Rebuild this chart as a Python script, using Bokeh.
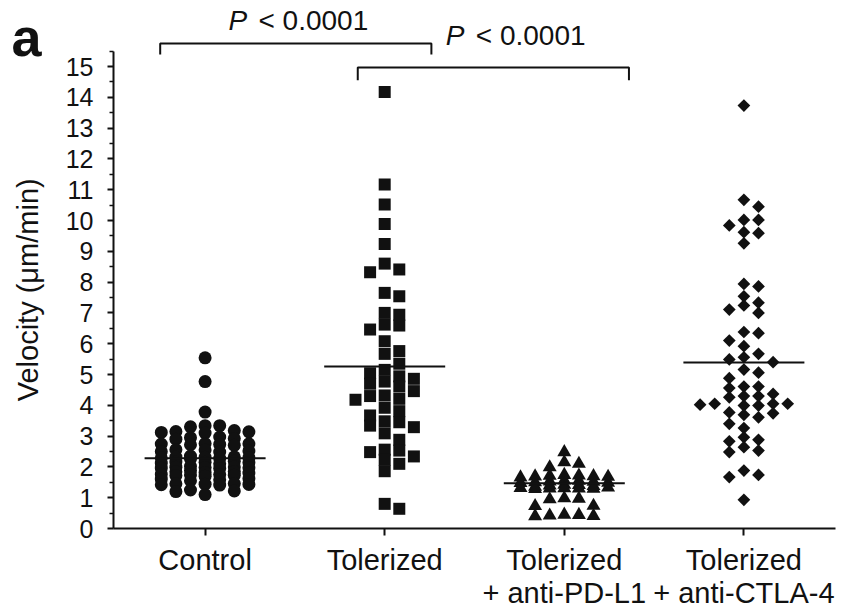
import numpy as np
from bokeh.plotting import figure
from bokeh.models import FixedTicker, Range1d, ColumnDataSource
from bokeh.core.properties import value
from bokeh.embed import file_html
from bokeh.resources import INLINE

# ---------------- data ----------------
CATEGORIES = ["Control", "Tolerized", "Tolerized\n+ anti-PD-L1", "Tolerized\n+ anti-CTLA-4"]

CONTROL = [5.54, 4.77, 3.78,
           3.34, 3.34, 3.30,
           3.15, 3.12, 3.18, 3.10, 3.14,
           2.95, 2.97, 2.92, 2.90,
           2.75, 2.73, 2.72, 2.74, 2.70, 2.76,
           2.55, 2.52, 2.50, 2.56, 2.48,
           2.35, 2.32, 2.30, 2.28, 2.26, 2.33, 2.29, 2.31,
           2.15, 2.12, 2.18, 2.10, 2.14, 2.16,
           1.98, 2.00, 1.96, 1.99, 2.02, 1.97, 1.95,
           1.85, 1.82, 1.88, 1.80, 1.84,
           1.74, 1.72, 1.76, 1.70, 1.75, 1.73,
           1.58, 1.60, 1.55, 1.62,
           1.45, 1.43, 1.42, 1.44, 1.41, 1.46,
           1.25, 1.20, 1.22,
           1.10]

TOLERIZED = [14.17, 11.17, 10.52, 9.89, 9.24, 8.60, 8.41, 8.32, 7.54, 7.65,
             7.00, 6.94, 6.59, 6.62, 6.46, 6.08, 5.67, 5.76, 5.35, 5.04,
             5.15, 4.86, 4.94, 4.70, 4.77, 4.61, 4.46, 4.32, 4.21, 4.18,
             4.30, 3.92, 3.81, 3.67, 3.45, 3.29, 3.34, 3.48, 3.09, 2.88,
             2.56, 2.48, 2.34, 2.53, 2.23, 2.10, 1.86, 0.64, 0.80]

ANTI_PDL1 = [2.48, 2.15, 1.99, 2.10,
             1.72, 1.68, 1.70, 1.74, 1.66, 1.69, 1.71,
             1.55, 1.50, 1.52, 1.48, 1.56, 1.53, 1.49,
             1.40, 1.38, 1.42, 1.36, 1.41,
             1.31, 1.30, 1.33, 1.28, 1.32, 1.29, 1.30,
             0.97, 0.98, 0.95,
             0.73, 0.74,
             0.42, 0.40, 0.44, 0.41, 0.45]

ANTI_CTLA4 = [13.73, 10.67, 10.45, 10.02, 10.02, 9.84, 9.62, 9.59, 9.26,
              7.86, 7.94, 7.54, 7.24, 7.00, 7.11, 7.33, 6.34, 6.38, 6.10,
              5.92, 5.67, 5.56, 5.49, 5.40, 5.16, 5.06, 4.88, 4.61, 4.61,
              4.56, 4.30, 4.26, 4.37, 4.30, 4.05, 4.05, 4.05, 4.02, 3.99,
              3.99, 3.74, 3.77, 3.61, 3.69, 3.40, 3.26, 2.88, 2.96, 2.83,
              2.64, 2.48, 2.53, 1.74, 1.67, 1.88, 0.93]

MEDIANS = [2.28, 5.26, 1.47, 5.39]
Y_TICKS = list(range(0, 16))
Y_MAX = 15.5
Y_LABEL = "Velocity (μm/min)"
PANEL_LETTER = "a"

# comparisons (bracket spans along the category axis, heights in µm/min)
BRACKET_LEFT = [0.75, 1.85]
BRACKET_RIGHT = [2.26, 3.36]
BRACKET_TOP = [15.75, 14.97]
BRACKET_DROP = [0.36, 0.42]
P_LABEL_X = [1.13, 2.34]
P_LABEL_Y = [16.49, 16.01]
P_VALUE_TEXT = ["< 0.0001", "< 0.0001"]

# ---------------- layout ----------------
W, H = 845, 611
AX_LEFT_PX, AX_BOTTOM_PX = 113, 528     # where the axes sit on the canvas
AX_X0, AX_X1 = 0.49, 4.51               # extent of the category axis
PX_X = 179.6                            # px per category unit
PX_Y = 30.8                             # px per µm/min
# whole canvas is the frame; axes are pinned with fixed_location
X_LO = AX_X0 - AX_LEFT_PX / PX_X
X_HI = X_LO + W / PX_X
Y_LO = -(H - AX_BOTTOM_PX) / PX_Y
Y_HI = Y_LO + H / PX_Y
COL_W = 14.6 / PX_X


def swarm(values, center, min_sep=10.0, max_k=3):
    order = sorted(range(len(values)), key=lambda i: -values[i])
    placed = {}
    xs = [0.0] * len(values)
    cand = [0] + [s * k for k in range(1, max_k + 1) for s in (1, -1)]
    for i in order:
        y = values[i] * PX_Y
        best = None
        for k in cand:
            if all(abs(y - yy) >= min_sep for yy in placed.get(k, [])):
                best = k
                break
        if best is None:
            best = max(cand, key=lambda k: min([abs(y - yy) for yy in placed.get(k, [])] or [1e9]))
        placed.setdefault(best, []).append(y)
        xs[i] = center + best * COL_W
    return xs


FONT = "Liberation Sans"
INK = "#111111"

p = figure(width=W, height=H, x_range=Range1d(X_LO, X_HI), y_range=Range1d(Y_LO, Y_HI),
           output_backend="svg", toolbar_location=None, title=None,
           min_border_left=0, min_border_right=0, min_border_top=0, min_border_bottom=0)
p.grid.visible = False
p.outline_line_color = None
p.background_fill_color = "white"
p.border_fill_color = "white"

centers = [1, 2, 3, 4]

src = ColumnDataSource(dict(x=swarm(CONTROL, 1, min_sep=8.0), y=CONTROL))
p.scatter("x", "y", source=src, marker="circle", size=13, fill_color=INK, line_color=None)
src = ColumnDataSource(dict(x=swarm(TOLERIZED, 2, min_sep=10.0), y=TOLERIZED))
p.scatter("x", "y", source=src, marker="square", size=12, fill_color=INK, line_color=None)
src = ColumnDataSource(dict(x=swarm(ANTI_PDL1, 3, min_sep=8.0), y=ANTI_PDL1))
p.scatter("x", "y", source=src, marker="triangle", size=14, fill_color=INK, line_color=None)
src = ColumnDataSource(dict(x=swarm(ANTI_CTLA4, 4, min_sep=9.0), y=ANTI_CTLA4))
p.scatter("x", "y", source=src, marker="square", angle=np.pi / 4, size=9, fill_color=INK, line_color=None)

# medians
half = 60.5 / PX_X
p.segment(x0=[c - half for c in centers], x1=[c + half for c in centers], y0=MEDIANS, y1=MEDIANS,
          line_color=INK, line_width=2)

# brackets
xs, ys = [], []
for l, r, t, d in zip(BRACKET_LEFT, BRACKET_RIGHT, BRACKET_TOP, BRACKET_DROP):
    xs.append([l, l, r, r])
    ys.append([t - d, t, t, t - d])
p.multi_line(xs, ys, line_color=INK, line_width=2)

p.text(x=P_LABEL_X, y=P_LABEL_Y, text=["P"] * len(P_LABEL_X), text_font=value(FONT),
       text_font_style="italic", text_font_size="28px", text_color=INK, text_baseline="middle")
p.text(x=P_LABEL_X, y=P_LABEL_Y, text=P_VALUE_TEXT, x_offset=30, text_font=value(FONT),
       text_font_size="28px", text_color=INK, text_baseline="middle")

# panel letter and y-axis title
p.text(x=[AX_X0 - 102 / PX_X], y=[(AX_BOTTOM_PX - 36) / PX_Y], text=[PANEL_LETTER], text_font=value(FONT),
       text_font_style="bold", text_font_size="54px", text_color=INK, text_baseline="middle")
p.text(x=[AX_X0 - 85.5 / PX_X], y=[Y_MAX / 2], text=[Y_LABEL], angle=np.pi / 2, text_font=value(FONT),
       text_font_size="29px", text_color=INK, text_align="center", text_baseline="middle")

# axes
ya = p.yaxis[0]
ya.fixed_location = AX_X0
ya.ticker = FixedTicker(ticks=Y_TICKS, minor_ticks=[t + 0.5 for t in Y_TICKS])
ya.bounds = (0, Y_MAX)
ya.axis_line_width = 2
ya.axis_line_color = INK
ya.major_tick_out = 6
ya.major_tick_in = 0
ya.minor_tick_out = 4
ya.minor_tick_in = 0
ya.major_tick_line_width = 2
ya.minor_tick_line_width = 1.5
ya.major_tick_line_color = INK
ya.minor_tick_line_color = INK
ya.major_label_text_font = FONT
ya.major_label_text_font_size = "25px"
ya.major_label_text_color = INK
ya.major_label_standoff = 14

xa = p.xaxis[0]
xa.fixed_location = 0
xa.ticker = FixedTicker(ticks=centers, minor_ticks=[])
xa.bounds = (AX_X0, AX_X1)
xa.major_label_overrides = {c: lab for c, lab in zip(centers, CATEGORIES)}
xa.axis_line_width = 2
xa.axis_line_color = INK
xa.major_tick_out = 7
xa.major_tick_in = 0
xa.major_tick_line_width = 2
xa.major_tick_line_color = INK
xa.major_label_text_font = FONT
xa.major_label_text_font_size = "29px"
xa.major_label_text_line_height = 1.05
xa.major_label_text_color = INK
xa.major_label_standoff = 8

open("out.html", "w").write(file_html(p, INLINE))
